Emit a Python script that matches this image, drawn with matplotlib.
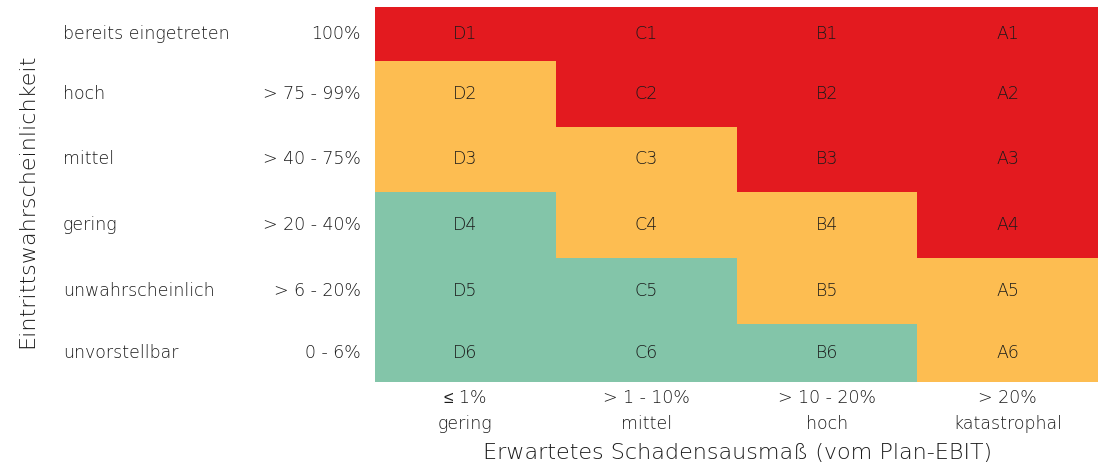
import numpy as np
import matplotlib
matplotlib.use("Agg")
import matplotlib.pyplot as plt
from matplotlib.colors import ListedColormap
from matplotlib.transforms import blended_transform_factory

plt.rcParams["font.family"] = ["DejaVu Sans", "Liberation Sans"]
plt.rcParams["font.weight"] = "light"

# Schadensausmaß (Spalten) und Eintrittswahrscheinlichkeit (Zeilen, oben -> unten)
col_letters = ["D", "C", "B", "A"]
col_ranges = ["≤ 1%", "> 1 - 10%", "> 10 - 20%", "> 20%"]
col_names = ["gering", "mittel", "hoch", "katastrophal"]

row_names = ["bereits eingetreten", "hoch", "mittel", "gering",
             "unwahrscheinlich", "unvorstellbar"]
row_ranges = ["100%", "> 75 - 99%", "> 40 - 75%", "> 20 - 40%",
              "> 6 - 20%", "0 - 6%"]

# Risikoklasse je Zelle: 0 = gering (grün), 1 = mittel (orange), 2 = hoch (rot)
risk = np.array([
    [2, 2, 2, 2],
    [1, 2, 2, 2],
    [1, 1, 2, 2],
    [0, 1, 1, 2],
    [0, 0, 1, 1],
    [0, 0, 0, 1],
])

# Zeilenhöhen (Layout, oben -> unten)
row_heights = [54, 66, 65, 66, 66, 58]

cmap = ListedColormap(["#83C5A9", "#FDBD51", "#E31A1F"])
text_col = "#1a1a1a"
fs = 12.5

fig = plt.figure(figsize=(10.98, 4.72), dpi=100)
ax = fig.add_axes([375 / 1098, 1 - 382 / 472, 1 - 375 / 1098, 375 / 472])

y_edges = np.concatenate([[0], np.cumsum(row_heights)])
x_edges = np.arange(len(col_letters) + 1)
ax.pcolormesh(x_edges, y_edges, risk, cmap=cmap, vmin=0, vmax=2)
ax.set_xlim(0, len(col_letters))
ax.set_ylim(y_edges[-1], 0)

y_centers = (y_edges[:-1] + y_edges[1:]) / 2
x_centers = x_edges[:-1] + 0.5

for i, yc in enumerate(y_centers):
    for j, xc in enumerate(x_centers):
        ax.text(xc, yc, f"{col_letters[j]}{i + 1}", ha="center", va="center",
                fontsize=fs, color=text_col)

# Zeilenbeschriftungen links
trans = blended_transform_factory(ax.transAxes, ax.transData)
for yc, name, rng in zip(y_centers, row_names, row_ranges):
    ax.text(-0.4315, yc, name, transform=trans, ha="left", va="center",
            fontsize=fs, color=text_col)
    ax.text(-0.0194, yc, rng, transform=trans, ha="right", va="center",
            fontsize=fs, color=text_col)

ax.set_xticks(x_centers)
ax.set_xticklabels([f"{r}\n{n}" for r, n in zip(col_ranges, col_names)],
                   fontsize=fs, color=text_col, linespacing=1.55)
ax.tick_params(axis="x", length=0, pad=5)
ax.set_yticks([])
for s in ax.spines.values():
    s.set_visible(False)

fig.text(738 / 1098, 1 - 453 / 472, "Erwartetes Schadensausmaß (vom Plan-EBIT)",
         ha="center", va="center", fontsize=16, color=text_col)
fig.text(27 / 1098, 1 - 201 / 472, "Eintrittswahrscheinlichkeit",
         ha="center", va="center", rotation=90, fontsize=16, color=text_col)

fig.savefig("out.png", dpi=100)
